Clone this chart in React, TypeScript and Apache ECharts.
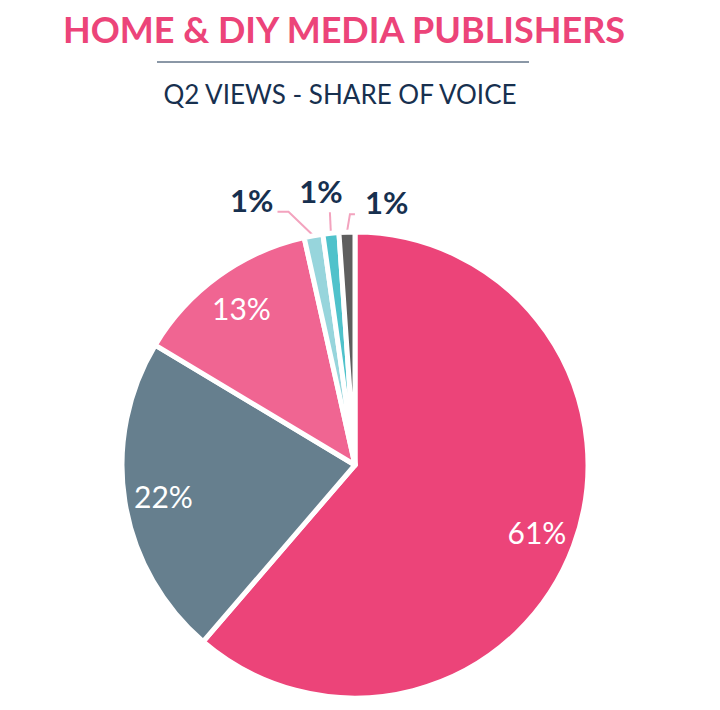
import React, { useEffect, useRef } from "react";
import * as echarts from "echarts";

const titleText = "HOME & DIY MEDIA PUBLISHERS";
const subtitleText = "Q2 VIEWS - SHARE OF VOICE";
const sliceNames = ["Publisher A", "Publisher B", "Publisher C", "Publisher D", "Publisher E", "Publisher F"];
const sliceValues = [61.3, 22.3, 12.9, 1.3, 1.1, 1.1];
const sliceLabels = ["61%", "22%", "13%", "1%", "1%", "1%"];
const sliceColors = ["#EC4479", "#667F8E", "#F06592", "#97D5DC", "#4FC2CB", "#5E5E5E"];

const NAVY = "#17304F";
const FONT = "Lato, 'Open Sans', sans-serif";

export default function App() {
  const ref = useRef<HTMLDivElement>(null);
  useEffect(() => {
    if (!ref.current) return;
    const chart = echarts.init(ref.current, undefined, { renderer: "svg" });
    const center = [355, 465];
    const radius = 233;

    const mainData = sliceValues.map((v, i) => ({
      name: sliceNames[i],
      value: v,
      itemStyle: { color: sliceColors[i] },
      label: { show: i >= 3 },
      labelLine: { show: i >= 3 },
    }));
    const labelData = sliceValues.map((v, i) => ({
      name: sliceNames[i],
      value: v,
      label: { show: i < 3 },
    }));

    const smallOffsets: Record<number, any> = {
      3: { line: [[-25, -24], [-36, -24]], lab: [-40, -36], align: "right" },
      4: { line: [[-1, -21]], lab: [-10, -42], align: "center" },
      5: { line: [[3, -18], [8, -18]], lab: [18, -30], align: "left" },
    };

    chart.setOption({
      animation: false,
      graphic: [
        {
          type: "text",
          x: 344,
          y: 29,
          style: {
            text: titleText,
            fill: "#EC4479",
            font: `bold 36px ${FONT}`,
            textAlign: "center",
            textVerticalAlign: "middle",
          },
        },
        {
          type: "line",
          shape: { x1: 157, y1: 62, x2: 529, y2: 62 },
          style: { stroke: NAVY, lineWidth: 1 },
        },
        {
          type: "text",
          x: 340,
          y: 94,
          style: {
            text: subtitleText,
            fill: NAVY,
            font: `normal 26px ${FONT}`,
            textAlign: "center",
            textVerticalAlign: "middle",
          },
        },
      ],
      series: [
        {
          type: "pie",
          center,
          radius: [0, radius],
          startAngle: 90,
          clockwise: true,
          avoidLabelOverlap: false,
          data: mainData,
          itemStyle: { borderColor: "#ffffff", borderWidth: 5 },
          label: {
            position: "outside",
            formatter: (p: any) => sliceLabels[p.dataIndex],
            color: NAVY,
            fontFamily: FONT,
            fontWeight: "bold",
            fontSize: 31,
          },
          labelLine: {
            length: 15,
            length2: 8,
            lineStyle: { color: "#F3A3BE", width: 2 },
          },
          labelLayout: (params: any) => {
            const cfg = smallOffsets[params.dataIndex];
            const pts = params.labelLinePoints;
            if (!cfg || !pts) return {};
            const [x0, y0] = pts[0];
            const linePts = [[x0, y0], ...cfg.line.map((d: number[]) => [x0 + d[0], y0 + d[1]])];
            return {
              x: x0 + cfg.lab[0],
              y: y0 + cfg.lab[1],
              align: cfg.align,
              verticalAlign: "middle",
              labelLinePoints: linePts,
            };
          },
          emphasis: { disabled: true },
          silent: true,
        },
        {
          type: "pie",
          center,
          radius: [0, radius * 1.64],
          startAngle: 90,
          clockwise: true,
          silent: true,
          z: 5,
          data: labelData,
          itemStyle: { color: "rgba(0,0,0,0)", borderWidth: 0 },
          label: {
            position: "inside",
            formatter: (p: any) => sliceLabels[p.dataIndex],
            color: "#ffffff",
            fontFamily: FONT,
            fontWeight: "normal",
            fontSize: 30,
          },
          labelLine: { show: false },
          emphasis: { disabled: true },
        },
      ],
    });
    return () => chart.dispose();
  }, []);
  return (
    <div
      ref={ref}
      style={{ position: "absolute", left: 0, top: 0, width: 720, height: 710, background: "#ffffff" }}
    />
  );
}
